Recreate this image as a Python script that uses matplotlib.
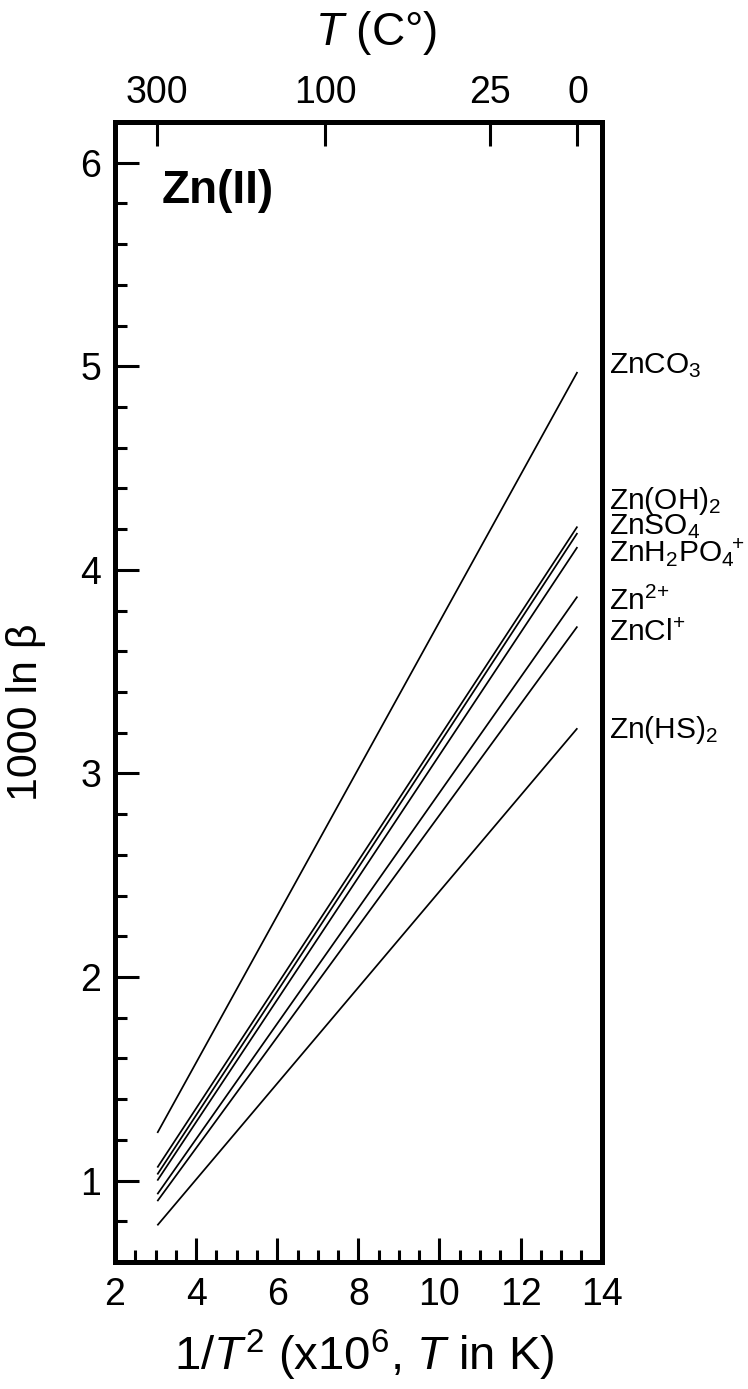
import numpy as np
import matplotlib
matplotlib.use('Agg')
import matplotlib.pyplot as plt
from matplotlib.ticker import MultipleLocator, FixedLocator, NullLocator
import matplotlib.transforms as mtransforms

plt.rcParams['font.family'] = ['Liberation Sans', 'DejaVu Sans']
plt.rcParams['mathtext.fontset'] = 'custom'
plt.rcParams['mathtext.rm'] = 'Liberation Sans'
plt.rcParams['mathtext.it'] = 'Liberation Sans:italic'
plt.rcParams['mathtext.bf'] = 'Liberation Sans:bold'

# ---- data ----
species = ['ZnCO$_3$', 'Zn(OH)$_2$', 'ZnSO$_4$', r'ZnH$_2$PO$_4{}^{\!\!+}$',
           r'Zn$^{2\!+}$', r'ZnCl$^{\!+}$', 'Zn(HS)$_2$']
inv_T2 = [3.044, 13.40]                     # 1/T^2 x 1e6 at 300 C and 0 C
lnbeta_300C = [1.234, 1.064, 1.030, 1.000, 0.933, 0.899, 0.780]
lnbeta_0C = [4.972, 4.213, 4.181, 4.112, 3.869, 3.722, 3.222]
top_T_C = [300, 100, 25, 0]
top_labels = ['300', '100', '25', '0']
x_ticks = [2, 4, 6, 8, 10, 12, 14]
y_ticks = [1, 2, 3, 4, 5, 6]

# label baselines (layout)
label_y = [4.967, 4.297, 4.173, 4.040, 3.804, 3.649, 3.173]

fig = plt.figure(figsize=(7.48, 13.89), dpi=100)
ax = fig.add_axes([0.15374, 0.09143, 0.65067, 0.82073])

for s, a, b in zip(species, lnbeta_300C, lnbeta_0C):
    ax.plot(inv_T2, [a, b], color='black', lw=1.25, solid_capstyle='butt')

ax.set_xlim(2, 14)
ax.set_ylim(0.6, 6.2)

for sp in ax.spines.values():
    sp.set_linewidth(3.6)

ax.xaxis.set_major_locator(FixedLocator(x_ticks))
ax.xaxis.set_minor_locator(MultipleLocator(0.5))
ax.yaxis.set_major_locator(FixedLocator(y_ticks))
ax.yaxis.set_minor_locator(MultipleLocator(0.2))
ax.tick_params(axis='both', which='major', direction='in', length=17, width=2.2,
               labelsize=27, top=False, right=False)
ax.tick_params(axis='both', which='minor', direction='in', length=8.6, width=2.2,
               top=False, right=False)
ax.tick_params(axis='x', which='major', pad=11)
ax.tick_params(axis='y', which='major', pad=10)

# top temperature axis
ax2 = ax.twiny()
ax2.set_xlim(ax.get_xlim())
top_pos = [1e6 / (t + 273.15) ** 2 for t in top_T_C]
ax2.xaxis.set_major_locator(FixedLocator(top_pos))
ax2.xaxis.set_minor_locator(NullLocator())
ax2.set_xticklabels(top_labels)
ax2.tick_params(axis='x', which='major', direction='in', length=17, width=2.2,
                labelsize=27, pad=8)
for sp in ax2.spines.values():
    sp.set_linewidth(3.6)

# species labels
trans = mtransforms.blended_transform_factory(ax.transAxes, ax.transData)
for s, yl in zip(species, label_y):
    ax.text(1.014, yl, s, transform=trans, fontsize=21.5, ha='left', va='baseline',
            clip_on=False)

ax.text(0.0966, 0.929, 'Zn(II)', transform=ax.transAxes, fontsize=33,
        fontweight='bold', ha='left', va='baseline')

fig.text(364 / 748, (1389 - 1370) / 1389, r'1/$T^2$ (x10$^6$, $T$ in K)',
         fontsize=34, ha='center', va='baseline')
fig.text(376 / 748, (1389 - 45) / 1389, r'$T$ (C°)', fontsize=33,
         ha='center', va='baseline')
fig.text(26 / 748, (1389 - 712) / 1389, r'1000 ln β', fontsize=31,
         rotation=90, ha='center', va='center')

fig.savefig('out.png', dpi=100)
